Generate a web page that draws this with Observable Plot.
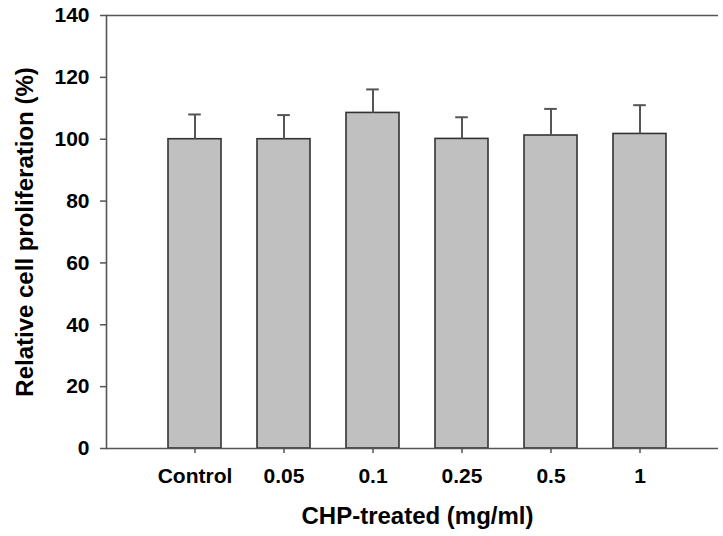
<!DOCTYPE html>
<html>
<head>
<meta charset="utf-8">
<script src="https://cdn.jsdelivr.net/npm/d3@7"></script>
<script src="https://cdn.jsdelivr.net/npm/@observablehq/plot@0.6"></script>
<style>
  html, body { margin: 0; padding: 0; background: #fff; }
  #chart svg { display: block; }
</style>
</head>
<body>
<div id="chart"></div>
<script>
const categories = ["Control", "0.05", "0.1", "0.25", "0.5", "1"];
const means = [100, 100, 108.5, 100.1, 101.2, 101.7];
const sds = [8, 7.8, 7.6, 7.0, 8.6, 9.3];
const yTicks = [0, 20, 40, 60, 80, 100, 120, 140];
const xTitle = "CHP-treated (mg/ml)";
const yTitle = "Relative cell proliferation (%)";

const data = categories.map((c, i) => ({cat: c, value: means[i], top: means[i] + sds[i]}));

const font = "'Liberation Sans', Arial, Helvetica, sans-serif";

const chart = Plot.plot({
  width: 723,
  height: 536,
  marginTop: 15,
  marginBottom: 88,
  marginLeft: 106,
  marginRight: 5,
  style: {fontFamily: font, fontWeight: "bold", fontSize: "20px", color: "#000", background: "#fff"},
  x: {domain: categories, range: [150.5, 684.5], paddingInner: 0.4, paddingOuter: 0.2, label: null},
  y: {domain: [0, 140], label: null},
  marks: [
    Plot.barY(data, {x: "cat", y: "value", fill: "#c0c0c0", stroke: "#333", strokeWidth: 1.6}),
    Plot.ruleX(data, {x: "cat", y1: "value", y2: "top", stroke: "#555", strokeWidth: 2}),
    Plot.tickY(data, {x: "cat", y: "top", stroke: "#555", strokeWidth: 2, insetLeft: 20.2, insetRight: 20.2}),
    Plot.ruleY([0, 140], {stroke: "#555", strokeWidth: 1.6}),
    Plot.frame({anchor: "left", stroke: "#555", strokeWidth: 1.6}),
    Plot.axisY({ticks: yTicks, tickSize: 6, stroke: "#555", strokeWidth: 1.5, text: null, label: null}),
    Plot.text(yTicks, {y: (d) => d, text: (d) => String(d), frameAnchor: "left", dx: -17, textAnchor: "end", lineAnchor: "middle", fontSize: 21, fontWeight: "bold", fill: "#000"}),
    Plot.axisX({tickSize: 5, tickPadding: 15, stroke: "#555", strokeWidth: 1.5, fontSize: 21, fontWeight: "bold", fill: "#000", label: null}),
    Plot.text([yTitle], {frameAnchor: "left", dx: -81, rotate: -90, fontSize: 24, fontWeight: "bold", fill: "#000", lineAnchor: "middle", textAnchor: "middle"}),
    Plot.text([xTitle], {frameAnchor: "bottom", dx: 5, dy: 75, fontSize: 24, fontWeight: "bold", fill: "#000", lineAnchor: "bottom", textAnchor: "middle"})
  ]
});
document.getElementById("chart").appendChild(chart);
</script>
</body>
</html>
